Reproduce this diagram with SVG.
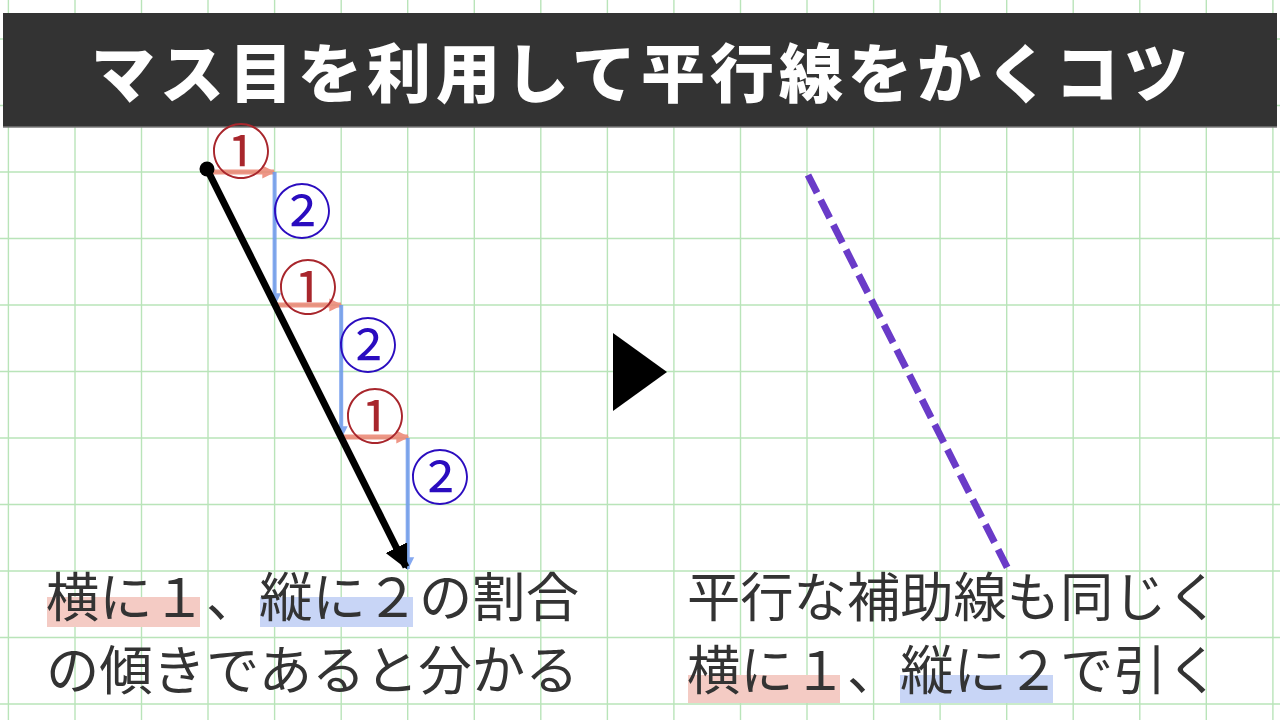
<svg xmlns="http://www.w3.org/2000/svg" width="1280" height="720" viewBox="0 0 1280 720">
<defs>
<style>
.grid line{stroke:#b9e4b9;stroke-width:1.4}
.jp{font-family:"Noto Sans CJK JP","Noto Sans",sans-serif}
.body{font-size:53.3px;fill:#333333}
.c1{font-size:60px;fill:#a8262c;text-anchor:middle}
.c2{font-size:60px;fill:#2a0cbf;text-anchor:middle}
.red{stroke:#ec8472;stroke-width:5;fill:none;opacity:0.85}
.blue{stroke:#6f99ee;stroke-width:4;fill:none;opacity:0.85}
</style>
<marker id="ar" viewBox="0 0 10 10" refX="9" refY="5" markerWidth="13" markerHeight="16" markerUnits="userSpaceOnUse" orient="auto"><path d="M0,0 L10,5 L0,10 Z" fill="#ec8472"/></marker>
<marker id="ab" viewBox="0 0 10 10" refX="9" refY="5" markerWidth="13" markerHeight="15" markerUnits="userSpaceOnUse" orient="auto"><path d="M0,0 L10,5 L0,10 Z" fill="#6f99ee"/></marker>
<marker id="ak" viewBox="0 0 10 10" refX="9" refY="5" markerWidth="24" markerHeight="24" markerUnits="userSpaceOnUse" orient="auto"><path d="M0,0 L10,5 L0,10 Z" fill="#000"/></marker>
</defs>
<rect width="1280" height="720" fill="#ffffff"/>
<g class="grid">
<line x1="8.4" y1="0" x2="8.4" y2="720"/><line x1="75" y1="0" x2="75" y2="720"/><line x1="141.5" y1="0" x2="141.5" y2="720"/><line x1="208" y1="0" x2="208" y2="720"/><line x1="274.6" y1="0" x2="274.6" y2="720"/><line x1="341.2" y1="0" x2="341.2" y2="720"/><line x1="407.7" y1="0" x2="407.7" y2="720"/><line x1="474.3" y1="0" x2="474.3" y2="720"/><line x1="540.8" y1="0" x2="540.8" y2="720"/><line x1="607.4" y1="0" x2="607.4" y2="720"/><line x1="673.9" y1="0" x2="673.9" y2="720"/><line x1="740.5" y1="0" x2="740.5" y2="720"/><line x1="807" y1="0" x2="807" y2="720"/><line x1="873.6" y1="0" x2="873.6" y2="720"/><line x1="940.1" y1="0" x2="940.1" y2="720"/><line x1="1006.7" y1="0" x2="1006.7" y2="720"/><line x1="1073.2" y1="0" x2="1073.2" y2="720"/><line x1="1139.8" y1="0" x2="1139.8" y2="720"/><line x1="1206.3" y1="0" x2="1206.3" y2="720"/><line x1="1272.9" y1="0" x2="1272.9" y2="720"/>
<line x1="0" y1="39" x2="1280" y2="39"/><line x1="0" y1="105.5" x2="1280" y2="105.5"/><line x1="0" y1="172" x2="1280" y2="172"/><line x1="0" y1="238.5" x2="1280" y2="238.5"/><line x1="0" y1="305" x2="1280" y2="305"/><line x1="0" y1="371.5" x2="1280" y2="371.5"/><line x1="0" y1="438" x2="1280" y2="438"/><line x1="0" y1="504.5" x2="1280" y2="504.5"/><line x1="0" y1="571" x2="1280" y2="571"/><line x1="0" y1="637.5" x2="1280" y2="637.5"/><line x1="0" y1="704" x2="1280" y2="704"/>
</g>
<g id="title">
<rect x="3" y="13" width="1274" height="114" fill="#333333"/>
<line x1="3" y1="127" x2="1277" y2="127" stroke="#7a7a7a" stroke-width="1.5"/>
<text class="jp" x="642" y="97" font-size="64" font-weight="900" fill="#ffffff" text-anchor="middle" letter-spacing="5">マス目を利用して平行線をかくコツ</text>
</g>
<g id="connectors">
<line class="red" x1="208" y1="172" x2="274" y2="172" marker-end="url(#ar)"/>
<line class="red" x1="275" y1="305" x2="341" y2="305" marker-end="url(#ar)"/>
<line class="red" x1="341" y1="437" x2="408" y2="437" marker-end="url(#ar)"/>
<line class="blue" x1="274.6" y1="172" x2="274.6" y2="305" marker-end="url(#ab)"/>
<line class="blue" x1="341.2" y1="305" x2="341.2" y2="438" marker-end="url(#ab)"/>
<line class="blue" x1="407.7" y1="438" x2="407.7" y2="569" marker-end="url(#ab)"/>
<line x1="207" y1="169" x2="406" y2="567" stroke="#000" stroke-width="7" marker-end="url(#ak)"/>
<line x1="808" y1="175" x2="1008" y2="569" stroke="#6a3bc8" stroke-width="7" stroke-dasharray="20 8"/>
</g>
<g id="start-point"><circle cx="207" cy="169" r="7.5" fill="#000"/></g>
<g id="steps" class="jp">
<text class="c1" x="241" y="174">①</text>
<text class="c2" x="302" y="234">②</text>
<text class="c1" x="308" y="310">①</text>
<text class="c2" x="368" y="368">②</text>
<text class="c1" x="375" y="439">①</text>
<text class="c2" x="440" y="500">②</text>
</g>
<g id="play-arrow"><polygon points="613,333 613,411 667,372" fill="#000"/></g>
<g id="left-caption">
<rect x="47" y="597" width="153" height="30" fill="#f4cbc4"/>
<rect x="260" y="597" width="153" height="30" fill="#c8d5f6"/>
<text class="jp body" x="46" y="617">横に１、縦に２の割合</text>
<text class="jp body" x="46" y="690">の傾きであると分かる</text>
</g>
<g id="right-caption">
<rect x="688" y="675" width="152" height="28" fill="#f4cbc4"/>
<rect x="900" y="675" width="153" height="28" fill="#c8d5f6"/>
<text class="jp body" x="687" y="617">平行な補助線も同じく</text>
<text class="jp body" x="687" y="690">横に１、縦に２で引く</text>
</g>
</svg>
